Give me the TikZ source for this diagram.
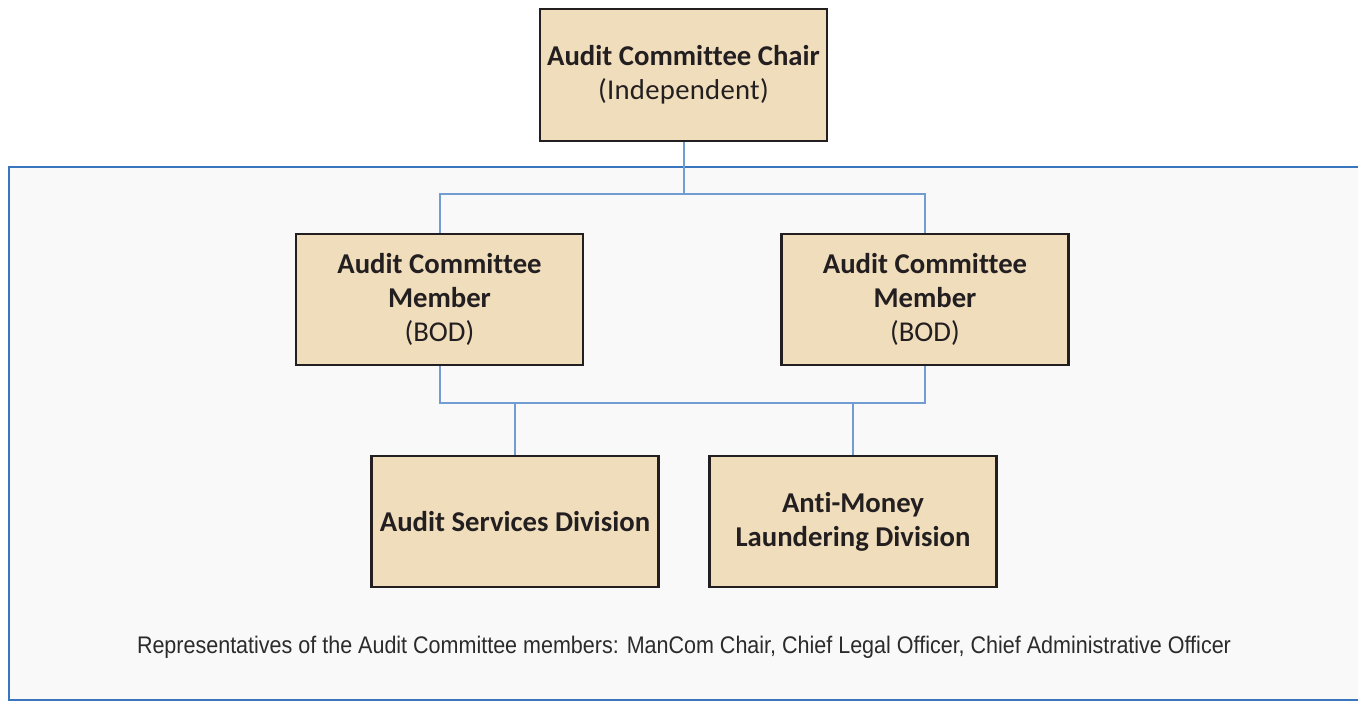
\documentclass[tikz,border=0pt]{standalone}
\usepackage{fontspec}
\setmainfont[Ligatures={NoCommon}]{Carlito}
\newfontfamily\spacedfont[LetterSpace=1,Ligatures={NoCommon}]{Carlito}
\newfontfamily\notefont{Liberation Sans}
\usepackage{graphicx}
\definecolor{boxfill}{HTML}{F0DDBB}
\definecolor{boxline}{HTML}{231F20}
\definecolor{linkblue}{HTML}{729DD3}
\definecolor{panelfill}{HTML}{F9F9F9}
\definecolor{panelline}{HTML}{3A76BE}
\definecolor{notegray}{HTML}{2B2B2B}
\begin{document}
\begin{tikzpicture}[x=1pt,y=-1pt,
  orgbox/.style={draw=boxline, line width=2.6pt, fill=boxfill,
    minimum width=287pt, minimum height=131pt, inner sep=0pt,
    align=center, text=boxline,
    font=\fontsize{28.7}{34}\selectfont},
  link/.style={draw=linkblue, line width=2pt}]
\useasboundingbox (0,0) rectangle (1358,702);
\fill[white] (0,0) rectangle (1358,702);
% shaded panel behind the lower levels
\draw[panelline, line width=2pt, fill=panelfill] (9,167) rectangle (1370,700);
% boxes
\node[orgbox, minimum height=132pt] (chair) at (683.5,75)
  {\textbf{Audit Committee Chair}\\{\spacedfont (Independent)}};
\node[orgbox] (memL) at (439.5,299.5)
  {\textbf{Audit Committee}\\\textbf{Member}\\(BOD)};
\node[orgbox] (memR) at (925,299.5)
  {\textbf{Audit Committee}\\\textbf{Member}\\(BOD)};
\node[orgbox] (asd) at (515,521.5) {\textbf{Audit Services Division}};
\node[orgbox] (aml) at (853,521.5)
  {\textbf{Anti-Money}\\\textbf{Laundering Division}};
% connectors
\coordinate (topbus) at (683.5,193.5);
\coordinate (lowbus) at (683.5,403);
\draw[link] (chair.south) -- (topbus);
\draw[link] (memL.north) |- (topbus) -| (memR.north);
\draw[link] (memL.south) |- (lowbus) -| (memR.south);
\draw[link] (asd.north) -- (asd.north |- lowbus);
\draw[link] (aml.north) -- (aml.north |- lowbus);
% footnote
\node[text=notegray, inner sep=0pt] (note) at (684,647)
  {\resizebox{1094pt}{\height}{\notefont\fontsize{24}{28}\selectfont Representatives of the Audit Committee members: ManCom Chair, Chief Legal Officer, Chief Administrative Officer}};
\end{tikzpicture}
\end{document}
